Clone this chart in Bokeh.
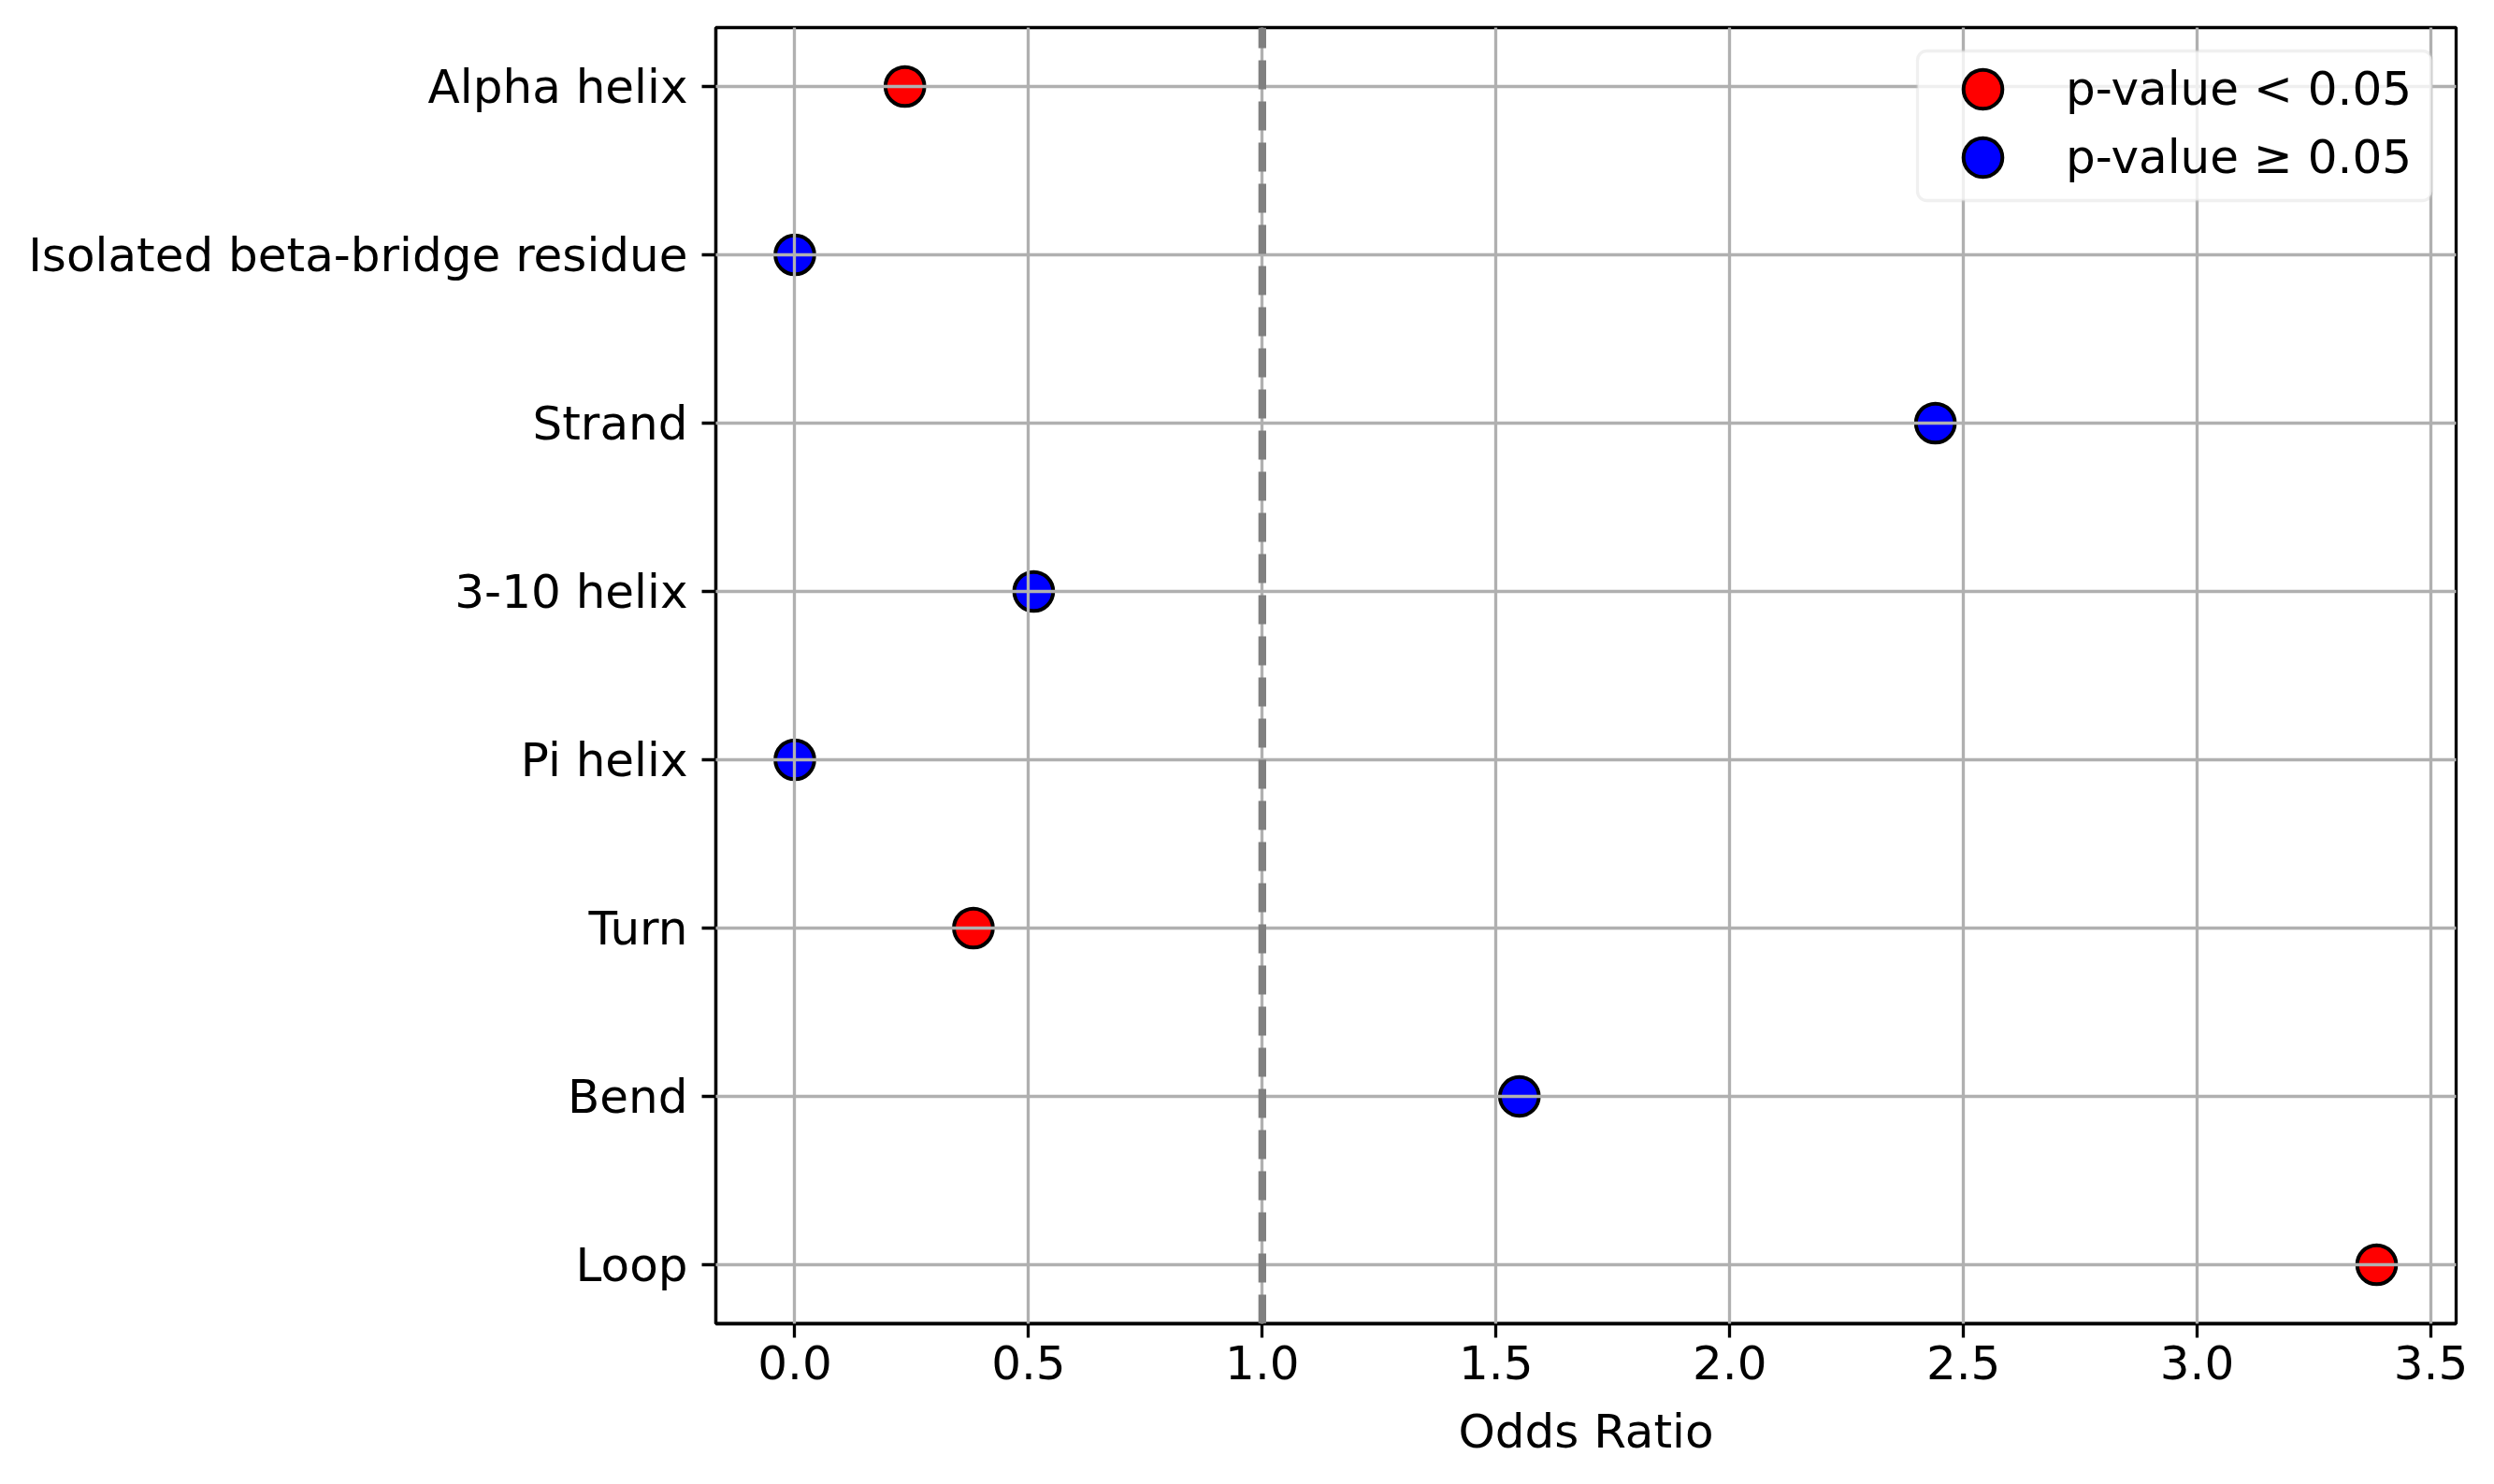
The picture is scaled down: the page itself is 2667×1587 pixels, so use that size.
from bokeh.plotting import figure
from bokeh.models import (FactorRange, Range1d, Span, Legend, LegendItem,
                          BoxAnnotation, FixedTicker, ColumnDataSource)
from bokeh.embed import file_html
from bokeh.resources import INLINE

# ---- data ----
categories = ["Alpha helix", "Isolated beta-bridge residue", "Strand",
              "3-10 helix", "Pi helix", "Turn", "Bend", "Loop"]
odds_ratio = [0.2355, 0.0, 2.44, 0.511, 0.0, 0.382, 1.55, 3.384]
significant = [True, False, False, False, False, True, False, True]
x_ticks = [0.0, 0.5, 1.0, 1.5, 2.0, 2.5, 3.0, 3.5]
x_tick_labels = ["0.0", "0.5", "1.0", "1.5", "2.0", "2.5", "3.0", "3.5"]
legend_labels = ["p-value < 0.05", "p-value \u2265 0.05"]
reference_line = 1.0
x_label = "Odds Ratio"

FONT = "DejaVu Sans"
FS = "50px"

sig_src = ColumnDataSource(dict(
    x=[v for v, s in zip(odds_ratio, significant) if s],
    y=[c for c, s in zip(categories, significant) if s]))
ns_src = ColumnDataSource(dict(
    x=[v for v, s in zip(odds_ratio, significant) if not s],
    y=[c for c, s in zip(categories, significant) if not s]))

p = figure(width=2650, height=1570,
           y_range=FactorRange(factors=list(reversed(categories)),
                               range_padding=-0.15, range_padding_units="absolute"),
           x_range=Range1d(-0.169, 3.554),
           output_backend="svg", toolbar_location=None,
           min_border_left=765, min_border_right=24,
           min_border_top=29, min_border_bottom=155)

p.background_fill_color = "white"
p.border_fill_color = "white"
p.outline_line_color = "black"
p.outline_line_width = 3.3

r_sig = p.scatter("x", "y", source=sig_src, size=41.7, fill_color="#ff0000",
                  line_color="black", line_width=4)
r_ns = p.scatter("x", "y", source=ns_src, size=41.7, fill_color="#0000ff",
                 line_color="black", line_width=4)

# axes
for ax in (p.xaxis[0], p.yaxis[0]):
    ax.axis_line_width = 3.3
    ax.axis_line_color = "black"
    ax.major_tick_line_width = 3.3
    ax.major_tick_line_color = "black"
    ax.major_tick_out = 15
    ax.major_tick_in = 0
    ax.minor_tick_line_color = None
    ax.major_label_text_font = FONT
    ax.major_label_text_font_size = FS
    ax.major_label_text_color = "black"

p.xaxis.ticker = FixedTicker(ticks=x_ticks)
p.xaxis.major_label_overrides = {t: l for t, l in zip(x_ticks, x_tick_labels)}
p.xaxis.major_label_standoff = 8
p.yaxis.major_label_standoff = 15
p.xaxis.axis_label = x_label
p.xaxis.axis_label_text_font = FONT
p.xaxis.axis_label_text_font_size = FS
p.xaxis.axis_label_text_font_style = "normal"
p.xaxis.axis_label_text_color = "black"
p.xaxis.axis_label_standoff = 24

# grid above markers like matplotlib
for g in (p.xgrid[0], p.ygrid[0]):
    g.grid_line_color = "#b0b0b0"
    g.grid_line_width = 3.3
    g.level = "guide"

# reference line
p.add_layout(Span(location=reference_line, dimension="height",
                  line_color="#808080", line_width=8.3, line_dash="31 13",
                  line_dash_offset=9))

# legend frame
p.add_layout(BoxAnnotation(left=1285, right=1835, top=1361, bottom=1201,
                           left_units="screen", right_units="screen",
                           top_units="screen", bottom_units="screen",
                           fill_color="white", fill_alpha=0.8,
                           line_color="#cccccc", line_width=3.3,
                           border_radius=10, level="annotation"))

legend_renderers = [r_sig, r_ns]
legend_bottoms = [1268, 1195]
for lab, rend, vy in zip(legend_labels, legend_renderers, legend_bottoms):
    lg = Legend(items=[LegendItem(label=lab, renderers=[rend])],
                location=(1303, vy), glyph_width=104, glyph_height=104,
                label_standoff=37, padding=0, margin=0,
                background_fill_alpha=0, border_line_alpha=0,
                label_text_font=FONT, label_text_font_size=FS,
                label_text_color="black")
    p.add_layout(lg)

open("out.html", "w").write(file_html(p, INLINE))
